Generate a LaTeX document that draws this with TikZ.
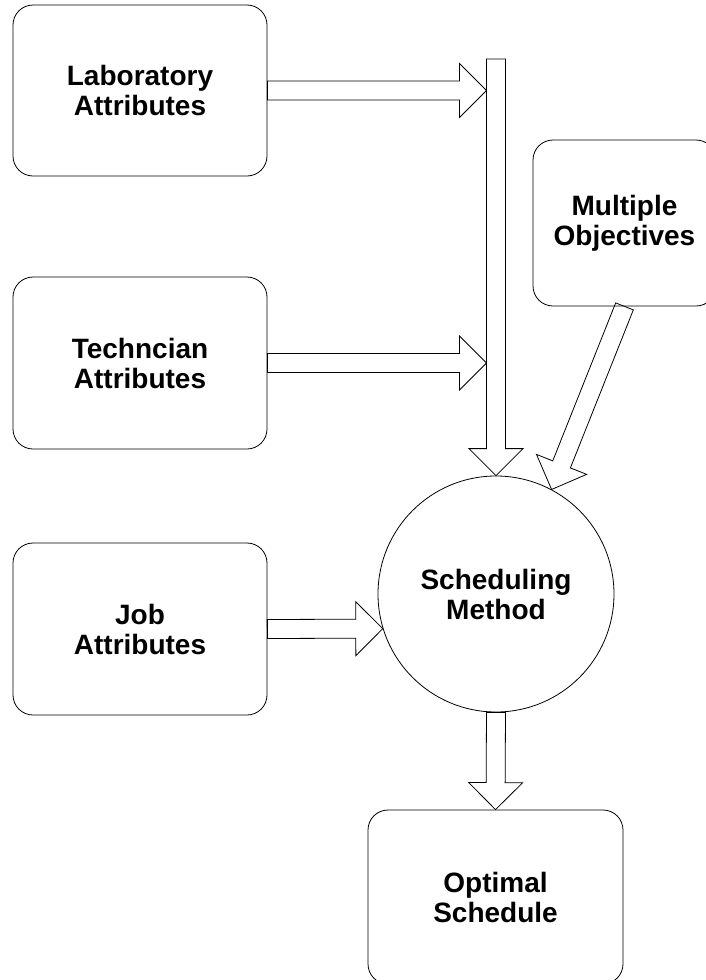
\documentclass[tikz,border=0pt]{standalone}
\usepackage{fontspec}
\setmainfont{Liberation Sans}
\usetikzlibrary{calc}

\tikzset{
  attrbox/.style={draw,line width=0.8pt,rounded corners=20pt,align=center,inner sep=0pt,
    font=\bfseries\fontsize{28}{30}\selectfont},
  methodnode/.style={draw,circle,line width=0.8pt,align=center,inner sep=0pt,minimum size=236pt,
    font=\bfseries\fontsize{28}{30}\selectfont},
  fatline/.style={draw,line width=0.8pt,line join=miter}
}

% hollow block arrow from #1 to #2
\newcommand{\fatarrow}[2]{%
  \path ($(#2)!27pt!(#1)$) coordinate (hb);
  \draw[fatline] ($(#1)!9.5pt!90:(#2)$) -- ($(hb)!9.5pt!90:(#2)$) -- ($(hb)!27pt!90:(#2)$)
    -- (#2) -- ($(hb)!27pt!-90:(#2)$) -- ($(hb)!9.5pt!-90:(#2)$) -- ($(#1)!9.5pt!-90:(#2)$) -- cycle;
}

\begin{document}
\begin{tikzpicture}[x=1pt,y=-1pt]
  \useasboundingbox (0,0) rectangle (705,980);

  \node[attrbox,minimum width=254pt,minimum height=171pt] (lab) at (140,90.5) {Laboratory\\Attributes};
  \node[attrbox,minimum width=254pt,minimum height=172pt] (tech) at (140,363) {Techncian\\Attributes};
  \node[attrbox,minimum width=254pt,minimum height=172pt] (job) at (140,629) {Job\\Attributes};
  \node[attrbox,minimum width=183pt,minimum height=166pt] (obj) at (624.5,223) {Multiple\\Objectives};
  \node[methodnode] (sched) at (496,594) {Scheduling\\Method};
  \node[attrbox,minimum width=255pt,minimum height=174pt] (opt) at (495.5,897) {Optimal\\Schedule};

  \coordinate (feed) at (496,59);
  \coordinate (labin) at ($(lab.east -| feed)+(-9.5,0)$);
  \coordinate (techin) at ($(tech.east -| feed)+(-9.5,0)$);

  \fatarrow{feed}{sched.north}
  \fatarrow{lab.east}{labin}
  \fatarrow{tech.east}{techin}
  \fatarrow{job.east}{sched.197}
  \fatarrow{obj.south}{sched.62}
  \fatarrow{sched.south}{opt.north}
\end{tikzpicture}
\end{document}
